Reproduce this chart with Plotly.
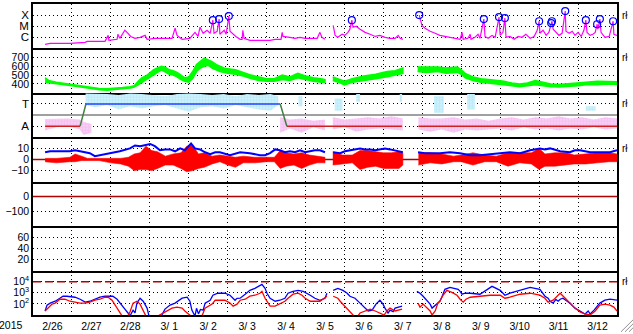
import plotly.graph_objects as go
from plotly.subplots import make_subplots

# ---------------- data (time = days since 2015-02-26 00:00 UT) ----------------
day_labels = ["2/26", "2/27", "2/28", "3/ 1", "3/ 2", "3/ 3", "3/ 4", "3/ 5",
              "3/ 6", "3/ 7", "3/ 8", "3/ 9", "3/10", "3/11", "3/12"]
year_label = "2015"

# GOES X-ray flux (W/m2)
xray_t = [0.31, 0.44, 0.95, 1.34, 1.39, 1.85, 1.93, 1.95, 2.16, 2.18, 2.23, 2.36, 2.44, 2.51, 2.62,
          2.75, 2.88, 2.93, 3.13, 3.39, 3.57, 3.65, 3.70, 3.83, 4.03, 4.16, 4.24, 4.29, 4.37, 4.47,
          4.55, 4.62, 4.65, 4.73, 4.78, 4.80, 4.91, 4.96, 5.03, 5.06, 5.14, 5.21, 5.32, 5.37, 5.39,
          5.42, 5.57, 5.96, 6.09, 6.22, 6.37, 6.40, 6.42, 6.60, 6.73, 6.86, 6.99, 7.12, 7.30, 7.37,
          7.42, 7.50, None, 7.71, 7.76, 7.83, 7.94, 8.01, 8.09, 8.14, 8.19, 8.22, 8.30, 8.40, 8.53,
          8.66, 8.79, 8.91, 9.04, 9.17, 9.30, 9.38, 9.43, 9.50, None, 9.92, 9.94, 9.99, 10.07, 10.20,
          10.33, 10.45, 10.58, 10.71, 10.84, 10.97, 11.02, 11.05, 11.17, 11.23, 11.25, 11.35, 11.43,
          11.48, 11.58, 11.61, 11.69, 11.79, 11.87, 11.97, 12.00, 12.07, 12.12, 12.15, 12.25, 12.36,
          12.46, 12.56, 12.66, 12.77, 12.87, 12.95, 13.00, 13.02, 13.10, 13.18, 13.25, 13.31, 13.33,
          13.36, 13.43, 13.51, 13.59, 13.67, 13.69, 13.77, 13.85, 13.92, 14.00, 14.08, 14.15, 14.20,
          14.23, 14.31, 14.38, 14.44, 14.49, 14.51, 14.56, 14.59, 14.69, 14.80, 14.90, 14.92, 15.0]
xray_flux = [2.3e-7, 2.8e-7, 2.8e-7, 3.5e-7, 4.3e-7, 4.3e-7, 1.5e-6, 5.4e-7, 6.6e-7, 1.9e-6, 8.1e-7,
             4.3e-6, 2.3e-6, 1.2e-6, 8.1e-7, 1.0e-6, 1.5e-6, 6.6e-7, 8.1e-7, 8.1e-7, 8.1e-7, 6.6e-6,
             1.5e-6, 6.6e-7, 8.1e-7, 2.8e-6, 1.2e-6, 8.1e-6, 2.3e-6, 4.3e-6, 2.3e-6, 3.5e-5, 2.3e-6,
             3.5e-6, 4.4e-5, 1.9e-6, 4.3e-6, 1.9e-6, 8.1e-5, 3.5e-6, 1.9e-6, 1.2e-6, 6.6e-7, 6.6e-7,
             4.3e-6, 8.1e-7, 5.4e-7, 5.4e-7, 5.4e-7, 6.6e-7, 6.6e-7, 2.8e-6, 1.2e-6, 1.0e-6, 8.1e-7,
             1.0e-6, 8.1e-7, 8.1e-7, 8.1e-7, 2.8e-6, 1.0e-6, 6.6e-7, None, 1.2e-5, 1.5e-6, 1.0e-6,
             1.9e-6, 1.5e-6, 2.8e-6, 5.4e-6, 3.5e-5, 8.1e-6, 1.0e-5, 5.4e-6, 2.8e-6, 1.9e-6, 1.2e-6,
             1.5e-6, 1.0e-6, 8.1e-7, 8.1e-7, 1.5e-6, 8.1e-7, 6.6e-7, None, 1.0e-4, 4.4e-5, 1.2e-5,
             6.6e-6, 3.5e-6, 2.3e-6, 1.5e-6, 1.2e-6, 1.0e-6, 8.1e-7, 6.6e-7, 2.8e-6, 6.6e-7, 8.1e-7,
             1.9e-6, 6.6e-7, 1.0e-6, 1.9e-6, 8.1e-7, 4.4e-5, 1.2e-6, 8.1e-7, 1.5e-6, 1.0e-6, 6.6e-5,
             1.5e-6, 2.8e-6, 5.4e-5, 1.0e-6, 1.2e-6, 6.6e-7, 1.2e-6, 1.0e-6, 1.9e-6, 8.1e-7, 1.2e-6,
             4.3e-6, 2.8e-5, 2.3e-6, 4.3e-6, 1.5e-6, 2.8e-6, 1.9e-5, 2.8e-5, 5.4e-6, 2.8e-6, 1.5e-6,
             2.3e-6, 2.3e-4, 3.5e-6, 2.3e-6, 3.5e-6, 1.5e-6, 2.8e-6, 1.2e-6, 4.3e-6, 3.5e-5, 2.8e-6,
             1.5e-6, 1.9e-6, 2.8e-6, 1.5e-5, 5.4e-6, 4.4e-5, 2.8e-6, 1.0e-6, 1.2e-6, 2.8e-5, 1.9e-6,
             1.5e-6]

# flare markers (M-class and above)
flare_t = [4.62, 4.78, 5.03, 8.19, 9.92, 11.58, 11.97, 12.12, 13.00, 13.31, 13.33, 13.67, 14.20,
           14.49, 14.56, 14.90]
flare_flux = [3.5e-5, 4.4e-5, 8.1e-5, 3.5e-5, 1.0e-4, 4.4e-5, 6.6e-5, 5.4e-5, 2.8e-5, 1.9e-5,
              2.8e-5, 2.3e-4, 3.5e-5, 1.5e-5, 4.4e-5, 2.8e-5]

# solar wind speed (km/s): lower / upper envelope of the scatter
vsw_t = [0.31, 0.40, 0.6, 0.9, 1.1, 1.3, 1.5, 1.7, 1.9, 2.1, 2.3, 2.5, 2.6, 2.7, 2.8, 2.9, 3.0,
         3.1, 3.2, 3.3, 3.4, 3.5, 3.6, 3.7, 3.8, 3.9, 4.0, 4.1, 4.2, 4.3, 4.4, 4.5, 4.6, 4.7, 4.8,
         4.9, 5.0, 5.2, 5.4, 5.6, 5.8, 6.0, 6.2, 6.4, 6.6, 6.8, 7.0, 7.2, 7.4, 7.5, None,
         7.7, 7.9, 8.0, 8.2, 8.5, 8.8, 9.1, 9.3, 9.5, None,
         9.88, 10.1, 10.4, 10.6, 10.9, 11.0, 11.1, 11.3, 11.5, 11.7, 11.9, 12.1, 12.3, 12.5, 12.7,
         12.9, 13.1, 13.3, 13.5, 13.7, 14.0, 14.2, 14.5, 14.8, 15.0]
vsw_lo = [420, 410, 400, 385, 375, 365, 350, 335, 330, 335, 345, 355, 365, 390, 420, 440, 470,
          500, 530, 560, 540, 510, 500, 480, 450, 430, 420, 460, 540, 580, 600, 610, 580, 560, 540,
          530, 520, 510, 490, 460, 440, 430, 430, 450, 440, 470, 450, 430, 420, 420, None,
          440, 410, 390, 420, 440, 460, 480, 500, 520, None,
          540, 530, 540, 520, 530, 510, 470, 440, 420, 410, 400, 390, 380, 370, 380,
          390, 380, 370, 365, 370, 380, 390, 390, 400, 395]
vsw_hi = [470, 440, 420, 400, 390, 380, 365, 350, 345, 350, 360, 370, 380, 430, 470, 490, 530,
          560, 580, 600, 590, 560, 550, 530, 500, 470, 480, 540, 620, 650, 690, 670, 650, 620, 600,
          580, 570, 560, 530, 500, 480, 460, 460, 500, 480, 520, 490, 470, 460, 450, None,
          480, 450, 430, 460, 490, 510, 540, 550, 580, None,
          590, 590, 590, 580, 590, 560, 520, 480, 460, 450, 440, 430, 410, 400, 410,
          440, 420, 400, 395, 400, 410, 420, 430, 430, 425]

# IMF sector: polarity line (T = +1 toward, A = -1 away)
sector_t = [0.31, 1.21, 1.36, 6.35, 6.52, 9.48, None, 9.90, 15.0]
sector_v = [-1, -1, 1, 1, -1, -1, None, -1, -1]

# IMF angle scatter, toward (light blue) envelope
toward_t = [1.35, 1.6, 1.9, 2.2, 2.5, 2.8, 3.1, 3.4, 3.7, 4.0, 4.3, 4.6, 4.9, 5.2, 5.5, 5.8, 6.1, 6.3,
            None, 6.82, 6.92, None, 7.75, 7.95, None, 8.3, 8.4, None, 9.42, 9.48, None,
            10.3, 10.55, None, 11.15, 11.35, None, 14.2, 14.45]
toward_lo = [0.9, 0.7, 0.9, 0.5, 0.8, 0.6, 0.8, 0.9, 0.6, 0.3, 0.7, 0.8, 0.6, 0.9, 0.7, 0.5, 0.4, 0.9,
             None, 0.8, 0.8, None, 0.4, 0.4, None, 1.2, 1.2, None, 1.2, 1.2, None,
             0.2, 0.2, None, 0.5, 0.5, None, 0.4, 0.4]
toward_hi = [1.95, 1.95, 1.9, 1.8, 1.95, 1.9, 1.8, 1.7, 1.9, 1.95, 1.9, 1.8, 1.9, 1.7, 1.9, 1.8, 1.9, 1.7,
             None, 1.7, 1.7, None, 1.5, 1.5, None, 1.9, 1.9, None, 1.9, 1.9, None,
             1.7, 1.7, None, 1.9, 1.9, None, 0.8, 0.8]

# IMF angle scatter, away (pink) envelope
away_t = [0.31, 0.6, 0.9, 1.2, 1.3, 1.5, None,
          6.35, 6.6, 6.9, 7.2, 7.5, None,
          7.7, 8.0, 8.3, 8.6, 8.9, 9.2, 9.5, None,
          9.9, 10.2, 10.5, 10.8, 11.1, 11.4, 11.7, 12.0, 12.3, 12.6, 12.9, 13.2, 13.5, 13.8,
          14.1, 14.4, 14.7, 15.0]
away_lo = [-1.4, -1.1, -1.0, -1.3, -1.8, -1.6, None,
           -1.6, -1.2, -1.6, -1.1, -1.4, None,
           -1.3, -1.1, -1.5, -1.3, -1.2, -1.3, -1.4, None,
           -1.3, -1.5, -1.3, -1.6, -1.3, -1.4, -1.3, -1.2, -1.4, -1.1, -1.3, -1.2, -1.4, -1.2,
           -1.3, -1.1, -1.3, -1.2]
away_hi = [-0.35, -0.3, -0.3, -0.4, -0.6, -0.8, None,
           -0.2, -0.4, -0.3, -0.5, -0.4, None,
           -0.2, -0.4, -0.3, -0.2, -0.3, -0.1, -0.3, None,
           -0.2, -0.3, -0.3, -0.2, -0.4, -0.3, -0.5, -0.3, -0.2, -0.4, -0.2, -0.3, -0.1, -0.3,
           -0.2, -0.4, -0.2, -0.3]

# IMF |B| (nT)
bt_t = [0.31, 0.44, 0.95, 1.08, 1.21, 1.46, 1.59, 1.72, 1.98, 2.23, 2.49, 2.62, 2.75, 2.88, 3.01,
        3.13, 3.26, 3.39, 3.52, 3.65, 3.78, 3.90, 4.06, 4.16, 4.29, 4.42, 4.55, 4.68, 4.80, 5.06,
        5.32, 5.57, 5.83, 5.96, 6.09, 6.22, 6.34, 6.47, 6.60, 6.73, 6.86, 6.99, 7.12, 7.24, 7.37,
        7.50, None, 7.71, 7.89, 8.01, 8.14, 8.27, 8.40, 8.53, 8.66, 8.79, 8.91, 9.04, 9.17, 9.30,
        9.43, 9.50, None, 9.89, 10.07, 10.45, 10.71, 10.97, 11.23, 11.48, 11.74, 12.0, 12.25,
        12.51, 12.77, 13.02, 13.15, 13.28, 13.54, 13.79, 13.92, 14.05, 14.31, 14.56, 14.82, 15.0]
bt_val = [6.5, 7.4, 7.4, 8.3, 7.4, 5.7, 3.0, 3.9, 5.7, 7.4, 10, 12.6, 12, 13, 14,
          12, 8.3, 9.1, 9.1, 7.4, 10, 8.3, 14.3, 10, 9.1, 6.5, 4.8, 6.5, 6.5, 3.9,
          6.5, 5.7, 3.9, 3.9, 5.7, 9.1, 8.3, 6.5, 7.4, 6.5, 8.3, 6.5, 7.4, 8.3, 8.3,
          6.5, None, 6.5, 5.7, 7.4, 8.3, 9.1, 10, 9.1, 9.1, 8.3, 9.1, 10, 9.1, 8.3,
          7.4, 6.5, None, 6.5, 5.7, 5.7, 6.5, 5.7, 3.9, 3.9, 4.8, 5.7, 6.5,
          5.7, 8.3, 10, 9.1, 10, 7.4, 6.5, 8.3, 8.3, 6.5, 6.5, 6.5, 8.3]

# IMF Bz (nT): lower / upper envelope
bz_t = [0.31, 0.6, 0.95, 1.08, 1.25, 1.4, 1.7, 2.0, 2.25, 2.45, 2.6, 2.75, 2.9, 3.05, 3.2, 3.4,
        3.6, 3.8, 3.95, 4.1, 4.25, 4.4, 4.6, 4.8, 5.0, 5.2, 5.4, 5.7, 6.0, 6.2, 6.35, 6.5, 6.7,
        6.9, 7.1, 7.3, 7.5, None, 7.7, 7.95, 8.2, 8.4, 8.6, 8.8, 9.0, 9.2, 9.4, 9.5, None,
        9.9, 10.2, 10.5, 10.8, 11.0, 11.3, 11.6, 11.9, 12.2, 12.5, 12.8, 13.0, 13.15, 13.4,
        13.7, 13.9, 14.2, 14.5, 14.8, 15.0]
bz_lo = [-2, -3, -2, -2, -1, -1, -1, -3, -4, -6, -10, -9, -9, -10, -8, -5,
         -5, -8, -11, -10, -8, -7, -4, -2, -5, -7, -3, -3, -2, -2, -8, -6, -5,
         -8, -5, -3, -3, None, -5, -4, -3, -9, -7, -6, -8, -8, -8, -5, None,
         -5, -3, -4, -2, -2, -5, -2, -2, -6, -3, -4, -9, -6, -6,
         -5, -4, -4, -3, -2, -2]
bz_hi = [1, 1, 2, 5, 3, 1, 1, 1, 1, 2, 5, 6, 12, 8, 7, 3,
         5, 6, 12, 13, 5, 6, 3, 4, 3, 2, 3, 2, 2, 2, 8, 6, 5,
         6, 4, 3, 2, None, 7, 4, 4, 8, 8, 7, 6, 6, 7, 6, None,
         6, 6, 5, 3, 4, 6, 4, 3, 6, 6, 6, 10, 5, 6,
         6, 4, 5, 6, 6, 5]

# Dst (nT) and Kp-type index: no data in this window
dst_t, dst_val = [], []
idx_t, idx_val = [], []

# >2 MeV (blue) and >0.6 MeV (red) electron flux, log10 values
e_blue_t = [0.31, 0.36, 0.44, 0.57, 0.69, 0.77, 0.87, 1.08, 1.21, 1.34, 1.46, 1.59, 1.72, 1.85, 1.98,
            2.05, 2.16, 2.23, 2.36, 2.44, 2.49, 2.57, 2.62, 2.67, 2.75, 2.83, 2.93, 2.98, 3.10, 3.31,
            3.39, 3.52, 3.65, 3.83, 3.96, 4.03, 4.08, 4.16, 4.20, 4.25, 4.30, 4.37, 4.42, 4.55, 4.62,
            4.75, 4.93, 5.06, 5.14, 5.19, 5.24, 5.32, 5.45, 5.57, 5.70, 5.83, 5.88, 5.96, 6.01, 6.09,
            6.22, 6.34, 6.47, 6.55, 6.68, 6.81, 6.94, 7.12, 7.24, 7.37, 7.50, 7.55, None,
            7.71, 7.83, 7.96, 8.07, 8.14, 8.27, 8.40, 8.53, 8.61, 8.71, 8.81, 8.91, 8.99, 9.04, 9.12,
            9.17, 9.25, 9.30, 9.43, 9.48, None,
            9.86, 9.94, 10.02, 10.12, 10.20, 10.25, 10.33, 10.38, 10.45, 10.51, 10.58, 10.71, 10.84,
            10.92, 10.97, 11.02, 11.10, 11.23, 11.48, 11.79, 12.00, 12.12, 12.25, 12.51, 12.77, 12.89,
            13.02, 13.15, 13.23, 13.28, 13.36, 13.43, 13.49, 13.54, 13.61, 13.72, 13.79, 13.92, 14.05,
            14.18, 14.26, 14.31, 14.41, 14.49, 14.56, 14.69, 14.82, 15.0]
e_blue_log = [1.36, 1.89, 2.07, 2.24, 2.51, 2.69, 2.69, 2.60, 2.42, 2.16, 2.24, 2.42, 2.60, 2.69, 2.69,
              2.69, 2.42, 2.07, 1.53, 1.18, 0.9, 1.44, 1.2, 2.07, 2.51, 2.24, 1.62, 0.9, 0.7, 1.0,
              1.53, 1.89, 2.07, 2.51, 2.60, 2.24, 1.44, 0.9, 1.6, 1.1, 1.5, 1.44, 2.07, 2.33, 2.78,
              2.96, 2.96, 2.78, 2.51, 2.33, 2.5, 2.51, 2.87, 3.22, 3.40, 3.67, 3.76, 3.40, 2.96, 2.51,
              2.24, 2.33, 2.51, 2.96, 3.13, 3.22, 3.13, 2.78, 2.51, 2.33, 2.51, 2.96, None,
              3.22, 3.40, 3.22, 2.96, 2.69, 2.51, 2.07, 1.62, 1.36, 1.44, 1.98, 2.33, 1.98, 1.62, 1.18,
              1.44, 1.3, 1.62, 1.71, 1.80, None,
              3.13, 2.96, 2.69, 2.24, 1.98, 1.62, 1.89, 2.07, 2.24, 2.69, 3.31, 3.49, 3.40,
              3.31, 3.13, 2.87, 2.96, 2.96, 2.87, 3.58, 3.22, 2.78, 2.96, 3.22, 3.49, 3.40,
              3.31, 2.69, 2.51, 2.24, 2.07, 2.4, 2.24, 2.42, 2.51, 2.24, 2.07, 1.62, 1.36,
              1.09, 1.36, 1.09, 1.44, 1.80, 2.07, 2.33, 2.42, 2.33]
e_red_t = [0.31, 0.39, 0.49, 0.57, 0.69, 0.82, 0.95, 1.08, 1.21, 1.34, 1.46, 1.59, 1.72, 1.85, 1.93,
           2.03, 2.11, 2.18, 2.23, 2.29, 2.40, 2.49, 2.57, 2.67, 2.75, 2.83, 2.90, 3.10, 3.47, 3.57,
           3.70, 3.83, 3.90, 3.98, 4.06, 4.20, 4.35, 4.42, 4.50, 4.60, 4.68, 4.80, 4.93, 5.06, 5.14,
           5.24, 5.32, 5.45, 5.57, 5.70, 5.83, 5.88, 5.96, 6.04, 6.09, 6.22, 6.34, 6.47, 6.55, 6.68,
           6.81, 6.91, 6.99, 7.12, 7.37, 7.50, 7.55, None,
           7.71, 7.83, 7.89, 7.96, 8.07, 8.14, 8.22, 8.30, 8.40, 8.53, 8.66, 8.79, 8.91, 9.02, 9.09,
           9.17, 9.30, 9.43, 9.48, None,
           9.89, 9.94, 10.02, 10.12, 10.20, 10.25, 10.33, 10.40, 10.45, 10.53, 10.63, 10.76, 10.89,
           10.97, 11.05, 11.12, 11.23, 11.48, 11.74, 12.00, 12.12, 12.25, 12.51, 12.77, 13.02, 13.15,
           13.23, 13.36, 13.49, 13.54, 13.67, 13.79, 13.92, 14.05, 14.18, 14.31, 14.44, 14.56, 14.69,
           14.82, 14.92, 15.0]
e_red_log = [1.36, 1.62, 1.98, 2.07, 2.42, 2.42, 2.24, 2.16, 2.07, 2.07, 2.16, 2.33, 2.42, 2.60, 2.60,
             2.33, 1.89, 1.53, 1.18, 0.9, 0.7, 1.27, 2.07, 2.24, 1.98, 1.36, 0.9, 0.7, 1.44, 1.62,
             1.71, 1.62, 1.36, 1.09, 0.9, 0.7, 1.0, 1.62, 1.80, 1.98, 2.33, 2.33, 2.33, 2.07, 1.80,
             1.98, 2.33, 2.42, 2.69, 2.78, 2.96, 3.13, 2.51, 2.07, 1.80, 1.80, 1.98, 2.24, 2.51, 2.87,
             2.96, 2.78, 2.51, 2.24, 2.24, 2.51, 2.69, None,
             2.69, 2.51, 2.24, 1.98, 1.62, 1.36, 1.0, 0.7, 1.18, 1.36, 1.53, 1.36, 1.18, 1.0, 1.36,
             1.62, 1.36, 1.44, 1.53, None,
             2.07, 1.71, 1.98, 1.62, 1.36, 1.0, 1.36, 2.07, 2.24, 2.78, 3.22, 3.04, 2.78,
             2.42, 2.16, 2.42, 2.60, 2.69, 2.78, 2.78, 2.51, 2.60, 2.87, 2.96, 2.78, 2.51,
             2.16, 2.33, 2.78, 2.96, 2.51, 2.07, 1.62, 1.27, 1.09, 1.0, 1.36, 1.89, 1.98,
             1.89, 1.71, 1.36]

# reference levels
bz_zero, dst_zero, e_alert = 0, 0, 1e4
x_span = [0, 15]

# ---------------- styling ----------------
FONT = "Liberation Sans, Arial, sans-serif"
DOT = "1px,3px"
MAGENTA, GREEN = "#ff00ff", "#00ff00"
BLUE, RED, DARKRED = "#0000ff", "#ff0000", "#b00000"

fig = make_subplots(rows=7, cols=1, shared_xaxes=True, vertical_spacing=0)


def segments(t, *cols):
    segs, cur = [], []
    for i, ti in enumerate(t):
        if ti is None:
            if cur:
                segs.append(cur)
            cur = []
        else:
            cur.append((ti,) + tuple(c[i] for c in cols))
    if cur:
        segs.append(cur)
    return segs


def band(t, lo, hi, color, row, lw=0.8, pattern=None):
    for seg in segments(t, lo, hi):
        ts = [s[0] for s in seg]
        los = [s[1] for s in seg]
        his = [s[2] for s in seg]
        kw = dict(fillcolor=color)
        if pattern is not None:
            kw = dict(fillcolor="rgba(0,0,0,0)", fillpattern=pattern)
        fig.add_trace(go.Scatter(x=ts + ts[::-1], y=his + los[::-1], fill="toself", mode="lines",
                                 line=dict(color=color, width=lw), hoverinfo="skip",
                                 showlegend=False, **kw), row=row, col=1)


def hline(y, color, width, row, dash="solid"):
    fig.add_trace(go.Scatter(x=x_span, y=[y, y], mode="lines", hoverinfo="skip",
                             line=dict(color=color, width=width, dash=dash), showlegend=False),
                  row=row, col=1)


# panel 1: X-ray
fig.add_trace(go.Scatter(x=xray_t, y=xray_flux, mode="lines", line=dict(color=MAGENTA, width=1.2),
                         showlegend=False), row=1, col=1)
fig.add_trace(go.Scatter(x=flare_t, y=flare_flux, mode="markers",
                         marker=dict(symbol="circle-open", size=7, color=BLUE, line=dict(width=1.2)),
                         showlegend=False), row=1, col=1)

# panel 2: solar wind speed
band(vsw_t, vsw_lo, vsw_hi, GREEN, 2, lw=1.5)

# panel 3: IMF sector
band(toward_t, toward_lo, toward_hi, "#a0e4fa", 3, lw=0,
     pattern=dict(shape=".", fgcolor="#9fe2f8", bgcolor="#daf4fc", size=3, solidity=0.7))
band(away_t, away_lo, away_hi, "#f0a8ee", 3, lw=0,
     pattern=dict(shape=".", fgcolor="#f2a8ee", bgcolor="#f9d8f6", size=3, solidity=0.7))
hline(0, "#808080", 1.5, 3)
for i in range(len(sector_t) - 1):
    a, b = sector_t[i], sector_t[i + 1]
    if a is None or b is None:
        continue
    va, vb = sector_v[i], sector_v[i + 1]
    col = "#2040ff" if (va > 0 and vb > 0) else ("#d02020" if (va < 0 and vb < 0) else "#408040")
    fig.add_trace(go.Scatter(x=[a, b], y=[va, vb], mode="lines", line=dict(color=col, width=1.5),
                             showlegend=False), row=3, col=1)

# panel 4: IMF Bz / Bt
hline(bz_zero, DARKRED, 1.5, 4)
band(bz_t, bz_lo, bz_hi, RED, 4, lw=0.6)
fig.add_trace(go.Scatter(x=bt_t, y=bt_val, mode="lines", line=dict(color=BLUE, width=2),
                         showlegend=False), row=4, col=1)

# panel 5: Dst
hline(dst_zero, DARKRED, 1.5, 5)
fig.add_trace(go.Scatter(x=dst_t, y=dst_val, mode="lines", showlegend=False), row=5, col=1)

# panel 6: index (empty) - keep axes alive with an invisible point
fig.add_trace(go.Scatter(x=[7.5], y=[40], mode="markers", marker=dict(opacity=0),
                         hoverinfo="skip", showlegend=False), row=6, col=1)

# panel 7: electrons
hline(e_alert, DARKRED, 1.5, 7, dash="8px,4px")
fig.add_trace(go.Scatter(x=e_blue_t, y=[None if v is None else 10 ** v for v in e_blue_log],
                         mode="lines", line=dict(color=BLUE, width=1.3), showlegend=False), row=7, col=1)
fig.add_trace(go.Scatter(x=e_red_t, y=[None if v is None else 10 ** v for v in e_red_log],
                         mode="lines", line=dict(color=RED, width=1.3), showlegend=False), row=7, col=1)

# axes
TICKFONT = dict(family=FONT, size=10.5, color="black")
for r in range(1, 8):
    fig.update_xaxes(range=[0, 15], tickmode="array", tickvals=[i + 0.5 for i in range(15)],
                     ticktext=day_labels, showticklabels=(r == 7), showgrid=False,
                     showline=True, mirror=(r == 1), linecolor="black", linewidth=2, ticks="",
                     zeroline=False, tickfont=TICKFONT,
                     minor=dict(tickmode="array", tickvals=list(range(1, 15)), showgrid=True,
                                gridcolor="black", griddash=DOT, gridwidth=1, ticks=""),
                     row=r, col=1)

ycommon = dict(showgrid=True, gridcolor="black", griddash=DOT, gridwidth=1, tickmode="array",
               showline=True, mirror=True, linecolor="black", linewidth=1.5, ticks="",
               zeroline=False, tickfont=TICKFONT)
fig.update_yaxes(type="log", range=[-7, -3], tickvals=[1e-6, 1e-5, 1e-4], ticktext=["C", "M", "X"],
                 row=1, col=1, **{**ycommon, "tickfont": dict(family=FONT, size=11.5, color="black")})
fig.update_yaxes(range=[300, 800], tickvals=[400, 500, 600, 700], row=2, col=1, **ycommon)
fig.update_yaxes(range=[-2, 2], tickvals=[1, -1], ticktext=["T", "A"], row=3, col=1,
                 **{**ycommon, "tickfont": dict(family=FONT, size=11.5, color="black")})
fig.update_yaxes(range=[-20, 20], tickvals=[-10, 0, 10], row=4, col=1, **ycommon)
fig.update_yaxes(range=[-200, 100], tickvals=[-100, 0], row=5, col=1, **ycommon)
fig.update_yaxes(range=[0, 80], tickvals=[20, 40, 60], row=6, col=1, **ycommon)
fig.update_yaxes(type="log", range=[1, 5], tickvals=[1e2, 1e3, 1e4],
                 ticktext=["10<sup>2</sup>", "10<sup>3</sup>", "10<sup>4</sup>"],
                 row=7, col=1, **ycommon)

# annotations
ann = [dict(text=year_label, xref="paper", yref="paper", x=0, y=0, xanchor="right", yanchor="top",
            xshift=-8, yshift=-2, showarrow=False, font=dict(family=FONT, size=10.5, color="black"))]
for yref, yv in [("y", -4), ("y2", 700), ("y3", 1), ("y4", 10), ("y7", 4)]:
    ann.append(dict(text="rł", xref="paper", yref=yref, x=1, y=yv, xanchor="left", yanchor="middle",
                    xshift=3, showarrow=False, font=dict(family=FONT, size=10, color="black")))

shapes = []
px_w, px_h = 584.0, 315.0
for k in (4, 8, 12):
    shapes.append(dict(type="line", xref="paper", yref="paper",
                       x0=1 + (16 - k) / px_w, y0=-17 / px_h,
                       x1=1 + 16 / px_w, y1=(-17 + k) / px_h,
                       line=dict(color="#909090", width=1)))

fig.update_layout(width=633, height=334, margin=dict(l=33, r=16, t=2, b=17),
                  paper_bgcolor="white", plot_bgcolor="white", showlegend=False,
                  font=dict(family=FONT, size=10.5, color="black"),
                  annotations=ann, shapes=shapes)

fig.write_html("out.html")
